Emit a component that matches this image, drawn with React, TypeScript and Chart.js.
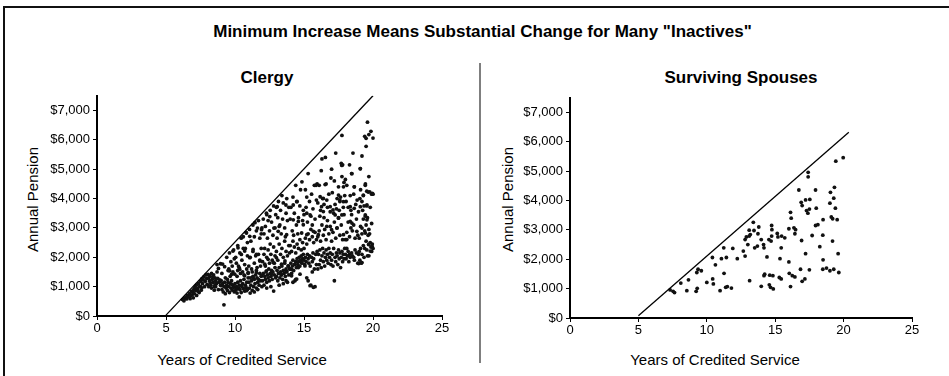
import React, { useEffect, useRef } from "react";
import { Chart, registerables } from "chart.js";

Chart.register(...registerables);

const FONT = "'Liberation Sans', Arial, Helvetica, sans-serif";

const mainTitle = 'Minimum Increase Means Substantial Change for Many "Inactives"';
const panelTitles = ["Clergy", "Surviving Spouses"];
const yAxisTitle = "Annual Pension";
const xAxisTitle = "Years of Credited Service";

const xMin = 0;
const xMax = 25;
const xTickValues = [0, 5, 10, 15, 20, 25];
const yMin = 0;
const yMax = 7500;
const yTickValues = [0, 1000, 2000, 3000, 4000, 5000, 6000, 7000];

const clergyLine: [number, number][] = [[5, 30], [20, 7500]];
const spouseLine: [number, number][] = [[5, 80], [20.38, 6330]];

const clergyPoints: [number, number][] = [
  // 6-7 years
  [6.2, 560], [6.3, 520], [6.35, 610], [6.45, 640], [6.5, 580], [6.55, 700], [6.6, 650], [6.7, 760],
  [6.75, 590], [6.8, 690], [6.85, 840], [6.9, 720], [6.95, 800], [6.98, 620], [7.0, 900],
  // 7-8 years
  [7.05, 760], [7.1, 980], [7.15, 870], [7.2, 1050], [7.22, 700], [7.3, 930], [7.35, 1100], [7.4, 800],
  [7.45, 1010], [7.5, 1180], [7.55, 880], [7.6, 1260], [7.65, 1100], [7.7, 1230], [7.75, 1330], [7.8, 1000],
  [7.85, 1180], [7.9, 1400], [7.95, 1280], [7.98, 1080], [7.5, 1000], [7.6, 960], [7.3, 850],
  // 8-9 years
  [8.05, 1420], [8.1, 1300], [8.15, 1200], [8.2, 1350], [8.25, 1050], [8.3, 1450], [8.35, 1250], [8.4, 1150],
  [8.45, 1400], [8.5, 1000], [8.55, 1300], [8.6, 1200], [8.65, 1100], [8.7, 1500], [8.75, 1280], [8.8, 900],
  [8.85, 1150], [8.9, 1230], [8.95, 1050], [8.1, 1000], [8.3, 950], [8.5, 880], [8.7, 1750], [8.8, 1620],
  [8.95, 1780], [8.2, 1130], [8.6, 1000], [8.4, 1330], [8.55, 1060], [8.64, 1144],
  // 9-10 years
  [9.0, 1200], [9.05, 900], [9.1, 1100], [9.15, 820], [9.2, 380], [9.2, 1000], [9.25, 1150], [9.3, 760],
  [9.35, 950], [9.4, 1050], [9.45, 870], [9.5, 1150], [9.55, 1000], [9.6, 800], [9.65, 1100], [9.7, 950],
  [9.75, 1200], [9.8, 880], [9.85, 1050], [9.9, 980], [9.95, 820], [9.1, 1770], [9.25, 1680], [9.4, 2000],
  [9.5, 1550], [9.6, 2150], [9.7, 1850], [9.8, 1700], [9.9, 2250], [9.95, 1950], [9.3, 1300], [9.65, 1350],
  [9.45, 1250], [9.85, 1500], [9.05, 1450], [9.55, 1600], [9.75, 1420], [9.0, 1032], [9.37, 976], [9.73, 1088],
  [9.61, 1537], [9.98, 1425], [9.85, 2210],
  // 10-11 years
  [10.0, 1100], [10.05, 880], [10.1, 1000], [10.15, 780], [10.2, 1150], [10.25, 950], [10.3, 650], [10.3, 1050],
  [10.35, 900], [10.4, 1200], [10.45, 800], [10.5, 1000], [10.55, 1100], [10.6, 930], [10.65, 1250], [10.7, 850],
  [10.75, 1050], [10.8, 980], [10.85, 1150], [10.9, 900], [10.95, 1300],
  [10.05, 2000], [10.1, 1800], [10.2, 2400], [10.3, 1650], [10.35, 2150], [10.45, 2650], [10.5, 1900], [10.55, 1500],
  [10.6, 2700], [10.7, 1750], [10.75, 2300], [10.8, 2850], [10.85, 1600], [10.9, 2050], [10.95, 1450], [10.15, 1350],
  [10.4, 1450], [10.65, 1400], [10.25, 1700], [10.9, 2500], [10.6, 2300], [10.2, 1550],
  [10.22, 2323], [10.46, 2098], [10.7, 2210], [10.34, 1593], [10.7, 1369], [10.95, 1481], [10.1, 920], [10.46, 1032],
  [10.83, 864], [10.83, 2827],
  // 11-12 years
  [11.0, 1150], [11.05, 950], [11.1, 1300], [11.15, 1050], [11.2, 1200], [11.25, 870], [11.3, 1350], [11.35, 1000],
  [11.4, 1250], [11.45, 1100], [11.5, 1400], [11.55, 950], [11.6, 1300], [11.65, 1150], [11.7, 1250], [11.75, 1050],
  [11.8, 1450], [11.85, 1200], [11.9, 1350], [11.95, 1000], [11.1, 780], [11.4, 820], [11.65, 900],
  [11.0, 1700], [11.1, 2000], [11.2, 1600], [11.3, 2200], [11.4, 1800], [11.5, 2050], [11.6, 1650], [11.7, 2100],
  [11.8, 1900], [11.9, 2300], [11.25, 1500], [11.55, 1550], [11.85, 1700],
  [11.05, 2950], [11.15, 2550], [11.3, 3100], [11.4, 2700], [11.55, 2900], [11.7, 3250], [11.8, 2650], [11.95, 3000],
  [11.45, 3180], [11.9, 2800],
  [11.07, 1986], [11.31, 2266], [11.55, 2098], [11.8, 1874], [11.31, 1313], [11.55, 1481], [11.92, 1369], [11.07, 2715],
  [11.63, 2995], [11.92, 2939],
  // 12-13 years
  [12.0, 1200], [12.05, 1450], [12.1, 1050], [12.15, 1350], [12.2, 1250], [12.25, 1500], [12.3, 1150], [12.35, 1400],
  [12.4, 1300], [12.45, 1600], [12.5, 1200], [12.55, 1450], [12.6, 1350], [12.65, 1550], [12.7, 1250], [12.75, 1500],
  [12.8, 850], [12.85, 1400], [12.9, 1650], [12.95, 1300], [12.3, 950], [12.6, 1000],
  [12.0, 1850], [12.1, 2100], [12.2, 1700], [12.3, 2000], [12.4, 2250], [12.5, 1800], [12.6, 2100], [12.7, 1900],
  [12.8, 2350], [12.9, 2050], [12.15, 2300], [12.55, 2450], [12.85, 1800],
  [12.05, 3300], [12.1, 2800], [12.2, 3050], [12.3, 3450], [12.35, 2650], [12.5, 2900], [12.55, 3600], [12.65, 3200],
  [12.75, 2750], [12.8, 3750], [12.9, 3000], [12.95, 3450], [12.4, 3250],
  [12.16, 1762], [12.4, 1930], [12.77, 1818], [12.28, 1537], [12.65, 1425], [12.28, 3500], [12.52, 3388], [12.82, 2995],
  // 13-14 years
  [13.0, 1350], [13.05, 1550], [13.1, 1200], [13.15, 1450], [13.2, 1650], [13.25, 1300], [13.3, 1500], [13.35, 1400],
  [13.4, 1700], [13.45, 1250], [13.5, 1550], [13.55, 1450], [13.6, 1800], [13.65, 1350], [13.7, 1600], [13.75, 1500],
  [13.8, 1150], [13.85, 1700], [13.9, 1400], [13.95, 1600], [13.2, 1050], [13.5, 1100], [13.7, 1200],
  [13.0, 2200], [13.1, 1900], [13.2, 2450], [13.3, 2100], [13.4, 2300], [13.5, 2000], [13.6, 2550], [13.7, 2200],
  [13.8, 2050], [13.9, 2400], [13.05, 2650], [13.35, 2800], [13.65, 2700], [13.95, 2150],
  [13.0, 3700], [13.1, 3350], [13.15, 3900], [13.25, 3100], [13.3, 3600], [13.4, 4100], [13.45, 3300], [13.5, 3850],
  [13.6, 3000], [13.7, 3500], [13.75, 4000], [13.8, 3250], [13.9, 3700], [13.2, 3050],
  [13.0, 1986], [13.37, 1762], [13.62, 1874], [13.86, 1705], [13.37, 1403], [13.74, 1515], [13.13, 2883], [13.74, 2771],
  [13.06, 3725], [13.69, 3781],
  // 14-15 years
  [14.0, 1600], [14.05, 1800], [14.1, 1450], [14.15, 1700], [14.2, 1900], [14.25, 1550], [14.3, 1750], [14.35, 1200],
  [14.4, 1850], [14.45, 1650], [14.5, 1950], [14.55, 1750], [14.6, 1850], [14.65, 2000], [14.7, 1700], [14.75, 1900],
  [14.8, 2050], [14.85, 1800], [14.9, 1950], [14.95, 2100], [14.2, 1150], [14.4, 1250],
  [14.0, 2400], [14.1, 2200], [14.2, 2550], [14.3, 2350], [14.4, 2150], [14.5, 2450], [14.6, 2300], [14.7, 2600],
  [14.8, 2250], [14.9, 2500],
  [14.0, 3300], [14.05, 3700], [14.15, 2900], [14.2, 4050], [14.3, 3500], [14.4, 4450], [14.45, 3100], [14.5, 3900],
  [14.6, 3350], [14.7, 3750], [14.75, 4300], [14.85, 4570], [14.9, 3250], [14.95, 3600], [14.55, 2800], [14.25, 2750],
  [14.1, 1593], [14.35, 1762], [14.59, 1649], [14.83, 1818], [14.1, 1369], [14.47, 1257], [14.71, 1425], [14.22, 3276],
  [14.59, 3220], [14.95, 3108], [14.83, 2827], [14.22, 3781], [14.47, 3893],
  // 15-16 years
  [15.0, 1900], [15.05, 1750], [15.1, 2000], [15.15, 1850], [15.2, 1300], [15.25, 2100], [15.3, 1950], [15.35, 1800],
  [15.4, 2050], [15.45, 1700], [15.5, 1050], [15.55, 2000], [15.6, 1850], [15.65, 2150], [15.7, 1950], [15.75, 1600],
  [15.8, 1000], [15.85, 2100], [15.9, 1750], [15.95, 2200], [15.3, 1200], [15.6, 1500],
  [15.0, 2300], [15.1, 2650], [15.2, 2450], [15.3, 2800], [15.4, 2600], [15.5, 2950], [15.6, 2700], [15.7, 2500],
  [15.8, 2850], [15.9, 2600],
  [15.0, 3450], [15.1, 4300], [15.15, 3700], [15.25, 3200], [15.3, 4850], [15.4, 3900], [15.5, 3400], [15.55, 4150],
  [15.65, 3650], [15.75, 4450], [15.8, 3300], [15.9, 3950], [15.95, 4500], [15.2, 4050], [15.6, 3100],
  [15.07, 1705], [15.44, 1032], [15.68, 976], [15.2, 2771], [15.68, 2883], [15.2, 3500], [15.44, 3444], [15.87, 4454],
  // 16-17 years
  [16.0, 1600], [16.05, 2100], [16.1, 1750], [16.15, 2250], [16.2, 1900], [16.25, 1650], [16.3, 2050], [16.35, 2300],
  [16.4, 1850], [16.45, 2150], [16.5, 1700], [16.55, 2000], [16.6, 2250], [16.65, 1900], [16.7, 2100], [16.75, 1800],
  [16.8, 2300], [16.85, 2000], [16.9, 2150], [16.95, 1750],
  [16.0, 2700], [16.1, 2900], [16.2, 2550], [16.3, 3100], [16.4, 2750], [16.5, 2950], [16.6, 2600], [16.7, 3250],
  [16.8, 2800], [16.9, 3050], [16.45, 3350], [16.15, 3400],
  [16.0, 3850], [16.1, 4450], [16.2, 3600], [16.3, 5350], [16.35, 4000], [16.45, 3800], [16.55, 5400], [16.6, 4500],
  [16.7, 3700], [16.8, 4150], [16.9, 3550], [16.95, 4700], [16.25, 4950], [16.65, 3950],
  [16.04, 2771], [16.65, 3052], [16.17, 4062], [16.4, 4005], [16.27, 3725], [16.4, 3557], [16.53, 4477], [16.9, 3725],
  // 17-18 years
  [17.0, 1900], [17.05, 2100], [17.1, 1700], [17.15, 2300], [17.2, 1200], [17.25, 2000], [17.3, 1850], [17.35, 2150],
  [17.4, 2050], [17.45, 1750], [17.5, 2250], [17.55, 1950], [17.6, 2150], [17.65, 1650], [17.7, 2000], [17.75, 2200],
  [17.8, 1850], [17.85, 2100], [17.9, 1950], [17.95, 2300],
  [17.0, 2550], [17.1, 2850], [17.2, 3200], [17.3, 2650], [17.4, 3000], [17.5, 3350], [17.6, 2750], [17.7, 3100],
  [17.8, 2600], [17.9, 3450], [17.15, 3500], [17.55, 3600],
  [17.0, 5000], [17.05, 4200], [17.2, 4600], [17.25, 3800], [17.3, 5550], [17.4, 4000], [17.5, 4400], [17.6, 3900],
  [17.7, 5200], [17.75, 6150], [17.75, 4750], [17.8, 5150], [17.85, 3700], [17.9, 4550], [17.95, 4100], [17.65, 4050],
  [17.35, 3650],
  [17.0, 2939], [17.38, 2995], [17.86, 2771], [17.1, 3613], [17.26, 3444], [17.5, 3332], [17.74, 3444], [17.5, 4118],
  [17.6, 3950], [17.86, 3893], [17.74, 5128], [17.86, 4398],
  // 18-19 years
  [18.0, 2100], [18.05, 1950], [18.1, 2300], [18.15, 2050], [18.2, 2200], [18.3, 2100], [18.35, 2000], [18.45, 2150],
  [18.5, 2050], [18.6, 2000], [18.7, 2250], [18.8, 2150], [18.9, 1800], [18.95, 2100], [18.25, 1850], [18.65, 1900],
  [18.0, 2600], [18.1, 2850], [18.2, 3200], [18.3, 2700], [18.4, 3000], [18.5, 2900], [18.6, 3100], [18.7, 2650],
  [18.8, 3300], [18.9, 2750], [18.45, 3450],
  [18.0, 4650], [18.05, 3900], [18.1, 4450], [18.2, 3700], [18.3, 5150], [18.35, 4100], [18.45, 4850], [18.55, 5550],
  [18.6, 4150], [18.65, 4400], [18.75, 3800], [18.85, 3950], [18.95, 3550], [18.4, 3600],
  [18.1, 2603], [18.83, 2883], [18.35, 3725], [18.64, 3669], [18.35, 3220], [18.47, 3164], [18.64, 4398], [18.47, 4847],
  [18.96, 1784],
  // 19-20 years
  [19.0, 2200], [19.05, 1900], [19.1, 2300], [19.15, 1800], [19.2, 2100], [19.3, 2400], [19.35, 2000], [19.4, 2300],
  [19.5, 2550], [19.55, 2250], [19.65, 2750], [19.7, 2050], [19.8, 2500], [19.85, 2350], [19.9, 2200], [19.95, 2450],
  [20.0, 2300], [19.75, 2800], [19.6, 2050],
  [19.0, 2650], [19.1, 3050], [19.2, 2800], [19.3, 3300], [19.4, 2900], [19.45, 3400], [19.5, 3100], [19.6, 3350],
  [19.7, 2950], [19.8, 3700], [19.9, 3150], [19.25, 3600], [19.55, 3750],
  [19.05, 4000], [19.1, 4300], [19.2, 5450], [19.3, 4100], [19.35, 3750], [19.4, 6120], [19.45, 4500], [19.5, 6050],
  [19.5, 5780], [19.55, 4250], [19.6, 6600], [19.65, 4220], [19.7, 6180], [19.7, 4750], [19.85, 6290], [19.9, 4150],
  [19.95, 4180], [20.0, 6060], [20.0, 4150], [19.2, 3900], [19.08, 5020],
  [19.2, 2995], [19.44, 2827], [19.68, 2435], [19.93, 2379], [19.8, 2210], [19.2, 1818], [19.08, 3725], [19.56, 3781],
  [19.3, 4118], [19.44, 3444], [19.56, 3276], [19.44, 4454], [19.76, 4230], [19.08, 5015],
];

const spousePoints: [number, number][] = [
  [7.32, 955], [7.54, 910], [7.64, 865], [8.1, 1190], [8.66, 1300], [8.54, 930], [9.22, 910], [9.3, 1010],
  [9.27, 1550], [9.36, 1660], [9.6, 1610], [10.0, 1210], [10.43, 1330], [10.48, 1160], [10.41, 2060], [10.63, 1810],
  [10.97, 930], [11.07, 2020], [11.24, 2390], [11.26, 1520], [11.43, 2060], [11.38, 1045], [11.5, 1070], [11.8, 1020],
  [11.9, 2370], [12.23, 2020], [12.67, 2280], [12.8, 2110], [12.8, 2670], [12.89, 2760], [13.0, 2500], [13.1, 2790],
  [13.18, 2840], [13.13, 1270], [13.1, 2990], [13.45, 2980], [13.4, 3260], [13.5, 2390], [13.7, 2450], [13.74, 2870],
  [13.8, 3100], [13.98, 2670], [13.98, 1080], [14.15, 2500], [14.18, 2390], [14.23, 1490], [14.18, 1440], [14.4, 2080],
  [14.54, 2670], [14.57, 1130], [14.6, 1460], [14.7, 2620], [14.74, 3150], [14.76, 3010], [14.74, 2790], [14.66, 1045],
  [14.86, 990], [14.83, 1440], [15.15, 2880], [15.2, 2760], [15.3, 1380], [15.44, 1330], [15.35, 2020], [15.44, 2390],
  [15.47, 2790], [15.7, 2730], [16.0, 1910], [16.0, 3040], [16.03, 1520], [16.12, 3600], [16.17, 3400], [16.12, 1070],
  [16.25, 1440], [16.37, 3070], [16.49, 3010], [16.44, 2870], [16.44, 1400], [16.73, 4360], [16.85, 1660], [16.93, 2640],
  [16.9, 3940], [16.97, 3830], [16.97, 1250], [17.17, 1330], [17.22, 2190], [17.22, 4020], [17.29, 3660], [17.39, 3570],
  [17.41, 4960], [17.41, 4810], [17.53, 4040], [17.5, 3710], [17.5, 1640], [17.7, 2810], [17.95, 4360], [18.0, 3740],
  [17.95, 3150], [18.12, 3180], [18.26, 2430], [18.5, 3350], [18.48, 2820], [18.5, 1980], [18.48, 1660], [18.75, 1700],
  [19.0, 1610], [19.04, 4280], [19.0, 3910], [19.1, 3440], [19.2, 3380], [19.19, 2620], [19.28, 1660], [19.33, 4450],
  [19.28, 4080], [19.4, 3740], [19.43, 5340], [19.53, 3350], [19.6, 2190], [19.65, 1550], [19.97, 5460],
];

type PanelProps = {
  points: [number, number][];
  line: [number, number][];
  left: number;
  top: number;
  width: number;
  height: number;
  padRight: number;
};

function ScatterPanel({ points, line, left, top, width, height, padRight }: PanelProps) {
  const ref = useRef<HTMLCanvasElement | null>(null);

  useEffect(() => {
    if (!ref.current) return;
    const tickFont = { family: FONT, size: 13 };
    const chart = new Chart(ref.current, {
      type: "scatter",
      data: {
        datasets: [
          {
            data: line.map(([x, y]) => ({ x, y })),
            showLine: true,
            pointRadius: 0,
            borderColor: "#000",
            borderWidth: 1.3,
            order: 1,
          } as any,
          {
            data: points.map(([x, y]) => ({ x, y })),
            pointRadius: 1.9,
            pointHoverRadius: 1.9,
            pointStyle: "circle",
            backgroundColor: "#111",
            borderWidth: 0,
            order: 2,
          } as any,
        ],
      },
      options: {
        responsive: false,
        animation: false,
        devicePixelRatio: 1,
        events: [],
        layout: { padding: { left: 0, top: 8, right: padRight, bottom: 0 } },
        plugins: {
          legend: { display: false },
          tooltip: { enabled: false },
          title: { display: false },
        },
        scales: {
          x: {
            type: "linear",
            min: xMin,
            max: xMax,
            ticks: { autoSkip: false, color: "#000", font: tickFont, padding: 1, maxRotation: 0 },
            afterBuildTicks: (s: any) => {
              s.ticks = xTickValues.map((v) => ({ value: v }));
            },
            grid: { display: true, drawOnChartArea: false, drawTicks: true, tickLength: 4, color: "#000", lineWidth: 1 },
            border: { display: true, color: "#000", width: 2 },
            afterFit: (s: any) => {
              s.height = 29;
            },
          },
          y: {
            type: "linear",
            min: yMin,
            max: yMax,
            ticks: {
              autoSkip: false,
              color: "#000",
              font: tickFont,
              padding: 3,
              callback: (v: any) => "$" + Number(v).toLocaleString("en-US"),
            },
            afterBuildTicks: (s: any) => {
              s.ticks = yTickValues.map((v) => ({ value: v }));
            },
            grid: { display: true, drawOnChartArea: false, drawTicks: true, tickLength: 4, color: "#000", lineWidth: 1 },
            border: { display: true, color: "#000", width: 2 },
            afterFit: (s: any) => {
              s.width = 57;
            },
          },
        },
      } as any,
    });
    return () => chart.destroy();
  }, [points, line]);

  return (
    <canvas
      ref={ref}
      width={width}
      height={height}
      style={{ position: "absolute", left, top, width, height }}
    />
  );
}

const textBase: React.CSSProperties = {
  position: "absolute",
  fontFamily: FONT,
  color: "#000",
  whiteSpace: "nowrap",
  textAlign: "center",
};

export default function App() {
  return (
    <div
      style={{
        position: "fixed",
        left: 0,
        top: 0,
        width: 949,
        height: 376,
        overflow: "hidden",
        background: "#fff",
      }}
    >
      <div
        style={{
          position: "absolute",
          left: 3,
          top: 6,
          width: 960,
          height: 380,
          borderTop: "2px solid #111",
          borderLeft: "2px solid #111",
        }}
      />
      <div style={{ ...textBase, left: 8, top: 23, width: 949, fontSize: 17, lineHeight: "17px", fontWeight: "bold" }}>
        {mainTitle}
      </div>
      <div style={{ position: "absolute", left: 479, top: 63, width: 2, height: 300, background: "#7f7f7f" }} />

      <div style={{ ...textBase, left: 167, top: 69, width: 200, fontSize: 17, lineHeight: "17px", fontWeight: "bold" }}>
        {panelTitles[0]}
      </div>
      <div style={{ ...textBase, left: 641, top: 69, width: 200, fontSize: 17, lineHeight: "17px", fontWeight: "bold" }}>
        {panelTitles[1]}
      </div>

      <div
        style={{
          ...textBase,
          left: 31.5 - 100,
          top: 199 - 7.5,
          width: 200,
          height: 15,
          fontSize: 15,
          lineHeight: "15px",
          transform: "rotate(-90deg)",
        }}
      >
        {yAxisTitle}
      </div>
      <div
        style={{
          ...textBase,
          left: 507 - 100,
          top: 199 - 7.5,
          width: 200,
          height: 15,
          fontSize: 15,
          lineHeight: "15px",
          transform: "rotate(-90deg)",
        }}
      >
        {yAxisTitle}
      </div>

      <div style={{ ...textBase, left: 242 - 120, top: 352, width: 240, fontSize: 15, lineHeight: "15px" }}>
        {xAxisTitle}
      </div>
      <div style={{ ...textBase, left: 715 - 120, top: 352, width: 240, fontSize: 15, lineHeight: "15px" }}>
        {xAxisTitle}
      </div>

      <ScatterPanel points={clergyPoints} line={clergyLine} left={40} top={85} width={420} height={260} padRight={18} />
      <ScatterPanel points={spousePoints} line={spouseLine} left={513} top={87} width={420} height={260} padRight={21} />
    </div>
  );
}
